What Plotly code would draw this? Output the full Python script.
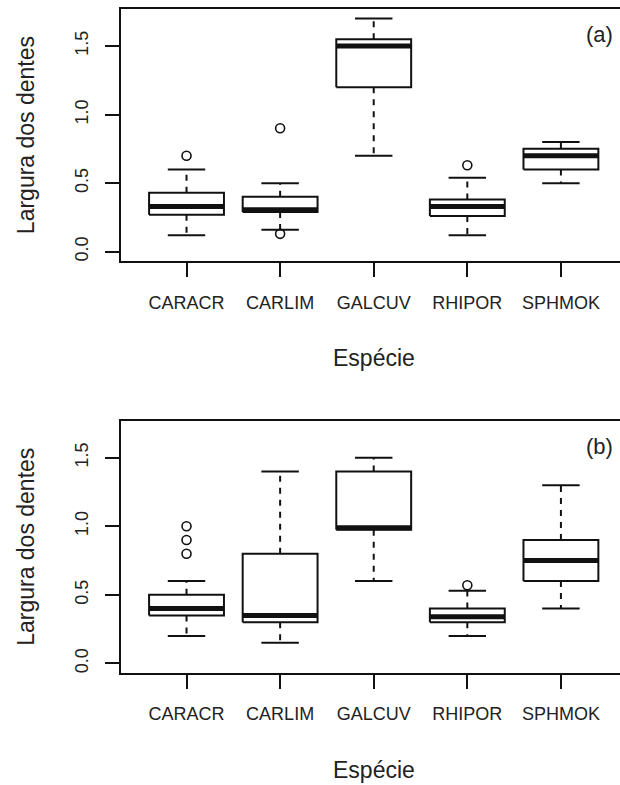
import plotly.graph_objects as go

# ---------------- data ----------------
species = ["CARACR", "CARLIM", "GALCUV", "RHIPOR", "SPHMOK"]

# panel (a)
a_lower = [0.12, 0.16, 0.70, 0.12, 0.50]
a_q1 = [0.27, 0.29, 1.20, 0.26, 0.60]
a_median = [0.33, 0.305, 1.50, 0.33, 0.70]
a_q3 = [0.43, 0.40, 1.55, 0.38, 0.75]
a_upper = [0.60, 0.50, 1.70, 0.54, 0.80]
a_outliers = [[0.70], [0.90, 0.13], [], [0.63], []]

# panel (b)
b_lower = [0.20, 0.15, 0.60, 0.20, 0.40]
b_q1 = [0.35, 0.30, 0.975, 0.30, 0.60]
b_median = [0.40, 0.35, 0.99, 0.34, 0.75]
b_q3 = [0.50, 0.80, 1.40, 0.40, 0.90]
b_upper = [0.60, 1.40, 1.50, 0.53, 1.30]
b_outliers = [[1.00, 0.90, 0.80], [], [], [0.57], []]

y_ticks = [0.0, 0.5, 1.0, 1.5]
y_ticktext = ["0.0", "0.5", "1.0", "1.5"]
panel_labels = ["(a)", "(b)"]
x_title = "Espécie"
y_title = "Largura dos dentes"

# ---------------- style ----------------
FONT = "Liberation Sans, Arial, Helvetica, sans-serif"
INK = "#111111"
W, H = 620, 785
ML = 121
BOXW = 0.4      # half box width (boxwex 0.8)
CAPW = 0.2      # half staple width

fig = go.Figure()


def add_panel(lower, q1, med, q3, upper, outl, xa, ya):
    bx, by, mx, my, wx, wy, cx, cy, ox, oy = [], [], [], [], [], [], [], [], [], []
    for i in range(len(species)):
        c = i + 1
        l, r = c - BOXW, c + BOXW
        bx += [l, r, r, l, l, None]
        by += [q1[i], q1[i], q3[i], q3[i], q1[i], None]
        mx += [l, r, None]
        my += [med[i], med[i], None]
        wx += [c, c, None, c, c, None]
        wy += [q3[i], upper[i], None, q1[i], lower[i], None]
        cx += [c - CAPW, c + CAPW, None, c - CAPW, c + CAPW, None]
        cy += [upper[i], upper[i], None, lower[i], lower[i], None]
        for v in outl[i]:
            ox.append(c)
            oy.append(v)
    common = dict(xaxis=xa, yaxis=ya, showlegend=False, hoverinfo="skip")
    fig.add_trace(go.Scatter(x=wx, y=wy, mode="lines",
                             line=dict(color=INK, width=2, dash="6px,6px"), **common))
    fig.add_trace(go.Scatter(x=cx, y=cy, mode="lines",
                             line=dict(color=INK, width=2), **common))
    fig.add_trace(go.Scatter(x=bx, y=by, mode="lines", fill="toself", fillcolor="white",
                             line=dict(color=INK, width=2), **common))
    fig.add_trace(go.Scatter(x=mx, y=my, mode="lines",
                             line=dict(color=INK, width=5), **common))
    fig.add_trace(go.Scatter(x=ox, y=oy, mode="markers",
                             marker=dict(symbol="circle-open", size=9, color=INK,
                                         line=dict(width=1.6, color=INK)), **common))


add_panel(a_lower, a_q1, a_median, a_q3, a_upper, a_outliers, "x", "y")
add_panel(b_lower, b_q1, b_median, b_q3, b_upper, b_outliers, "x2", "y2")

# pixel geometry of the two plotting regions
top_px = [(9.3, 261.0), (421.0, 672.7)]
xr = [0.3, 0.3 + (W - ML) / 93.6]


def ydom(t, b):
    return [1 - b / H, 1 - t / H]


xax = dict(range=xr, tickmode="array", tickvals=[1, 2, 3, 4, 5], ticktext=species,
           ticks="outside", ticklen=14, tickwidth=2, tickcolor=INK,
           showline=True, linewidth=2, linecolor=INK, mirror=True,
           showgrid=False, zeroline=False, fixedrange=True,
           tickfont=dict(family=FONT, size=18, color="#222"),
           ticklabelstandoff=10)
yax = dict(range=[-0.068, 1.768], tickmode="array", tickvals=y_ticks, ticktext=y_ticktext,
           tickangle=-90, ticks="outside", ticklen=14, tickwidth=2, tickcolor=INK,
           showline=True, linewidth=2, linecolor=INK, mirror=False,
           showgrid=False, zeroline=False, fixedrange=True,
           tickfont=dict(family=FONT, size=18, color="#222"),
           ticklabelstandoff=10)

fig.update_layout(
    width=W, height=H,
    margin=dict(l=ML, r=0, t=0, b=0, pad=0),
    paper_bgcolor="white", plot_bgcolor="white",
    xaxis=dict(domain=[0, 1], anchor="y", **xax),
    yaxis=dict(domain=ydom(*top_px[0]), anchor="x", **yax),
    xaxis2=dict(domain=[0, 1], anchor="y2", **xax),
    yaxis2=dict(domain=ydom(*top_px[1]), anchor="x2", **yax),
    font=dict(family=FONT, color="#222"),
)


def px_x(p):
    return (p - ML) / (W - ML)


def px_y(p):
    return 1 - p / H


annotations = []
plot_center_x = (120.7 + 627) / 2
for k, (t, b) in enumerate(top_px):
    annotations.append(dict(text=panel_labels[k], xref="paper", yref="paper",
                            x=px_x(599), y=px_y(t + 25.5), xanchor="center", yanchor="middle",
                            showarrow=False, font=dict(family=FONT, size=22, color="#222")))
    annotations.append(dict(text=y_title, xref="paper", yref="paper", textangle=-90,
                            x=px_x(26), y=px_y((t + b) / 2), xanchor="center", yanchor="middle",
                            showarrow=False, font=dict(family=FONT, size=23, color="#222")))
    annotations.append(dict(text=x_title, xref="paper", yref="paper",
                            x=px_x(plot_center_x), y=px_y(b + 97), xanchor="center",
                            yanchor="middle",
                            showarrow=False, font=dict(family=FONT, size=23, color="#222")))
fig.update_layout(annotations=annotations)

fig.write_html("out.html")
